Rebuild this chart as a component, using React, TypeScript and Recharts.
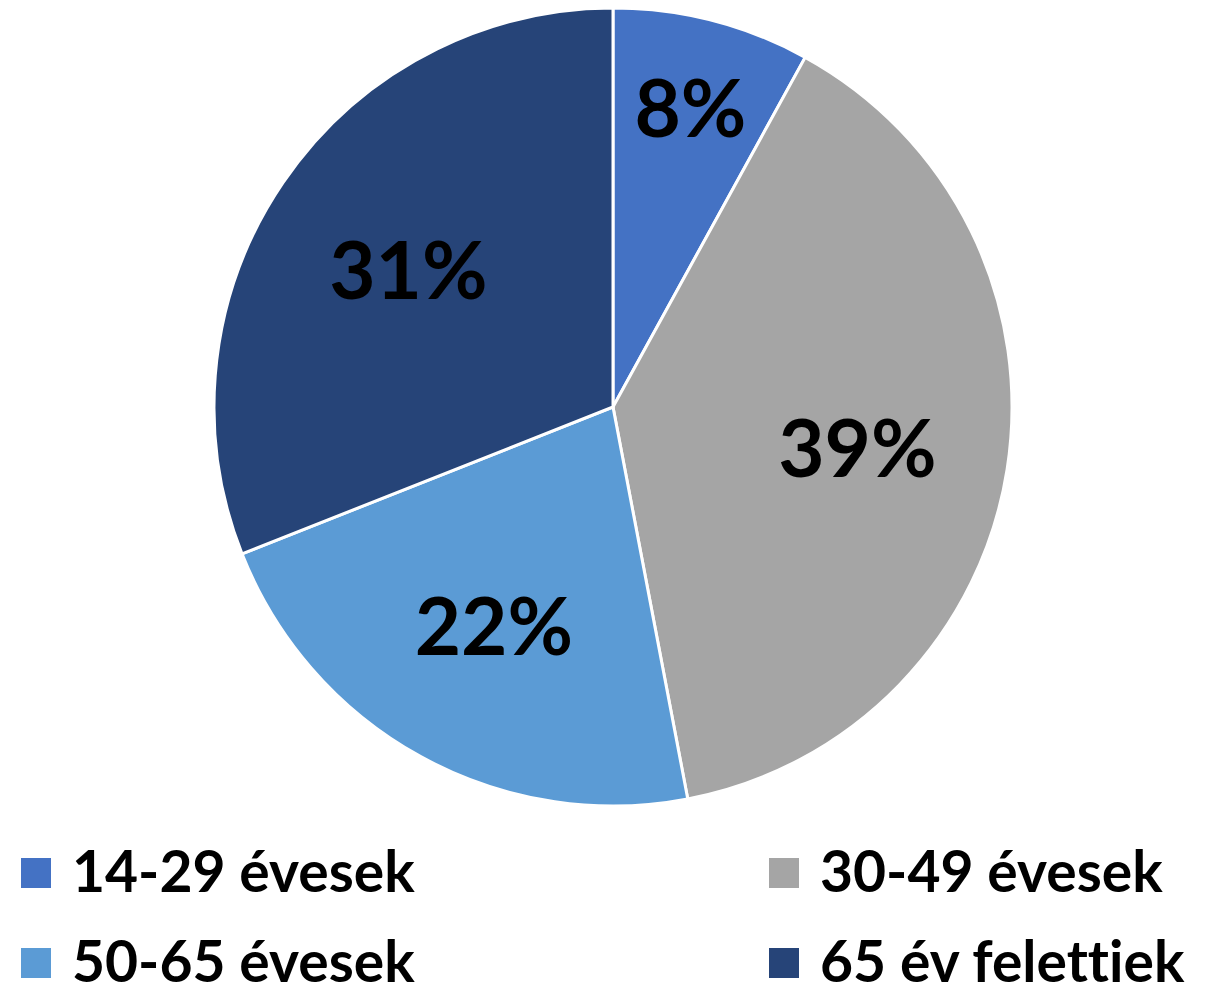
import React from "react";
import { PieChart, Pie, Cell, Legend } from "recharts";

const categories = ["14-29 évesek", "30-49 évesek", "50-65 évesek", "65 év felettiek"];
const shares = [8, 39, 22, 31];
const colors = ["#4472C4", "#A5A5A5", "#5B9BD5", "#264478"];

const data = categories.map((name, i) => ({ name, value: shares[i] }));

const FONT = "Lato, 'Open Sans', sans-serif";
const RAD = Math.PI / 180;

const renderLabel = (props: any) => {
  const { cx, cy, midAngle, outerRadius, percent } = props;
  const r = outerRadius * (percent < 0.1 ? 0.78 : 0.62);
  const x = cx + r * Math.cos(-midAngle * RAD);
  const y = cy + r * Math.sin(-midAngle * RAD);
  return (
    <text
      x={x}
      y={y}
      fill="#000"
      textAnchor="middle"
      dominantBaseline="central"
      style={{ fontFamily: FONT, fontWeight: 700, fontSize: 80 }}
    >
      {`${Math.round(percent * 100)}%`}
    </text>
  );
};

const renderLegend = (props: any) => {
  const { payload } = props;
  return (
    <svg width={1228} height={164} style={{ display: "block", overflow: "visible" }}>
      {payload.map((entry: any, i: number) => {
        const col = i % 2;
        const row = Math.floor(i / 2);
        const x0 = col === 0 ? 21 : 769;
        const base = 62 + row * 90;
        return (
          <g key={entry.value}>
            <rect x={x0} y={base - 34} width={30} height={30} fill={entry.color} />
            <text
              x={x0 + 51}
              y={base}
              fill="#000"
              style={{
                fontFamily: FONT,
                fontWeight: 700,
                fontSize: 57,
                fontVariantLigatures: "none",
              }}
            >
              {entry.value}
            </text>
          </g>
        );
      })}
    </svg>
  );
};

export default function App() {
  return (
    <div style={{ position: "absolute", left: 0, top: 0, width: 1228, height: 994, background: "#fff" }}>
      <PieChart width={1228} height={994} margin={{ top: 0, right: 0, bottom: 0, left: 0 }}>
        <Pie
          data={data}
          dataKey="value"
          nameKey="name"
          cx={613}
          cy={407}
          outerRadius={399}
          startAngle={90}
          endAngle={-270}
          stroke="#fff"
          strokeWidth={3}
          labelLine={false}
          label={renderLabel}
          isAnimationActive={false}
        >
          {data.map((d, i) => (
            <Cell key={d.name} fill={colors[i]} />
          ))}
        </Pie>
        <Legend
          content={renderLegend}
          wrapperStyle={{ position: "absolute", top: 830, left: 0, width: 1228, height: 164 }}
        />
      </PieChart>
    </div>
  );
}
